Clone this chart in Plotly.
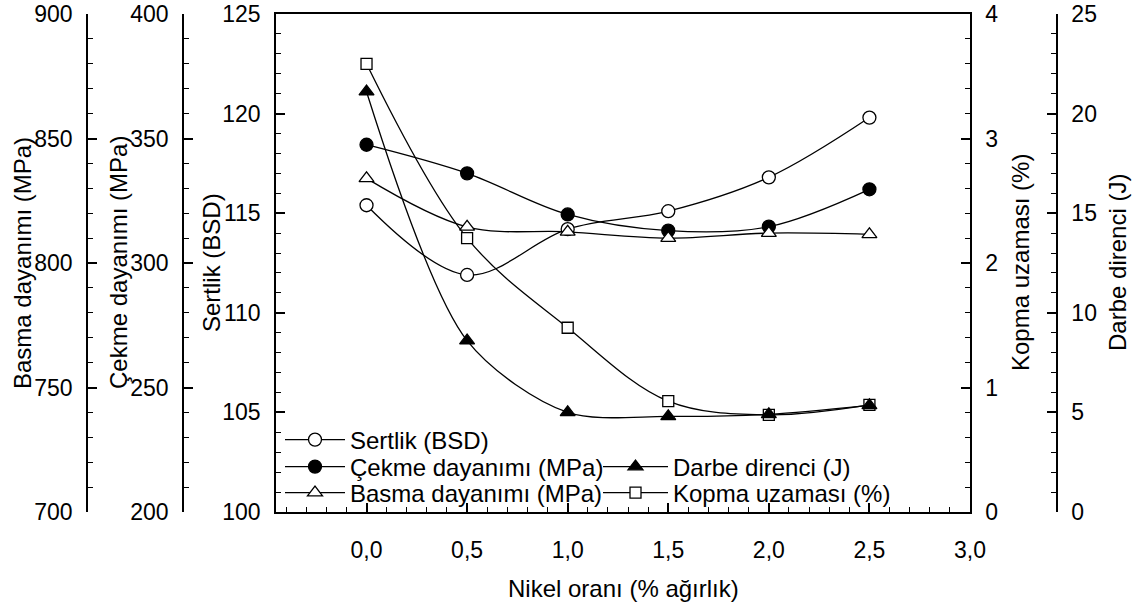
import plotly.graph_objects as go

# ---- data ----
nikel = [0.0, 0.5, 1.0, 1.5, 2.0, 2.5]
sertlik = [115.4, 111.9, 114.2, 115.1, 116.8, 119.8]          # BSD
cekme = [347.5, 336.0, 319.5, 313.0, 314.6, 329.6]            # MPa
basma = [834.0, 814.5, 812.5, 810.0, 812.0, 811.5]            # MPa
darbe = [21.1, 8.6, 5.0, 4.8, 4.9, 5.35]                      # J
kopma = [3.6, 2.2, 1.48, 0.89, 0.78, 0.86]                    # %

FONT = "Liberation Sans, Arial, sans-serif"
W, H = 1137, 608
TOP, BOTTOM = 14, 512
X0, X1 = 276, 970
TICK_SIZE = 23
TITLE_SIZE = 24
LEG_SIZE = 24

def px(p):
    return p / W

def py(p):
    return (BOTTOM - p) / (BOTTOM - TOP)

fig = go.Figure()

def line(sm=1.0):
    return dict(color="black", width=1.3, shape="spline", smoothing=sm)

fig.add_trace(go.Scatter(x=nikel, y=sertlik, name="Sertlik (BSD)", mode="lines+markers",
                         line=line(), yaxis="y", legend="legend",
                         marker=dict(symbol="circle", size=13, color="white",
                                     line=dict(color="black", width=1.3))))
fig.add_trace(go.Scatter(x=nikel, y=cekme, name="Çekme dayanımı (MPa)", mode="lines+markers",
                         line=line(), yaxis="y2", legend="legend2",
                         marker=dict(symbol="circle", size=13, color="black",
                                     line=dict(color="black", width=1.3))))
fig.add_trace(go.Scatter(x=nikel, y=basma, name="Basma dayanımı (MPa)", mode="lines+markers",
                         line=line(), yaxis="y3", legend="legend3",
                         marker=dict(symbol="triangle-up", size=13, color="white",
                                     line=dict(color="black", width=1.3))))
fig.add_trace(go.Scatter(x=nikel, y=darbe, name="Darbe direnci (J)", mode="lines+markers",
                         line=line(0.85), yaxis="y5", legend="legend4",
                         marker=dict(symbol="triangle-up", size=13, color="black",
                                     line=dict(color="black", width=1.3))))
fig.add_trace(go.Scatter(x=nikel, y=kopma, name="Kopma uzaması (%)", mode="lines+markers",
                         line=line(), yaxis="y4", legend="legend5",
                         marker=dict(symbol="square", size=11, color="white",
                                     line=dict(color="black", width=1.3))))

tickfont = dict(family=FONT, size=TICK_SIZE, color="black")

def yax(rng, dtick, mdtick, side, **kw):
    d = dict(range=rng, dtick=dtick, tick0=rng[0], side=side,
             showline=True, linecolor="black", linewidth=1.5,
             ticks="inside", ticklen=9, tickwidth=1.5, tickcolor="black",
             minor=dict(ticks="inside", ticklen=5, dtick=mdtick, tickwidth=1.2,
                        tickcolor="black", showgrid=False),
             showgrid=False, zeroline=False, tickfont=tickfont,
             ticklabelstandoff=9, automargin=False, fixedrange=True)
    d.update(kw)
    return d

def leg(xpix, ypix, iw):
    return dict(x=px(xpix), xanchor="left", y=py(ypix), yanchor="middle",
                bgcolor="rgba(0,0,0,0)", borderwidth=0, itemwidth=iw,
                font=dict(family=FONT, size=LEG_SIZE, color="black"))

fig.update_layout(
    width=W, height=H,
    margin=dict(l=0, r=0, t=TOP, b=H - BOTTOM, pad=0),
    paper_bgcolor="white", plot_bgcolor="white",
    separators=",.",
    font=dict(family=FONT, size=TICK_SIZE, color="black"),
    xaxis=dict(domain=[px(X0), px(X1)], range=[-0.45, 3.0],
               tick0=0, dtick=0.5, tickformat=".1f",
               showline=True, linecolor="black", linewidth=1.5, mirror=True,
               ticks="inside", ticklen=9, tickwidth=1.5, tickcolor="black",
               minor=dict(ticks="inside", ticklen=5, dtick=0.1, tickwidth=1.2,
                          tickcolor="black", showgrid=False),
               showgrid=False, zeroline=False, tickfont=tickfont,
               ticklabelstandoff=17, automargin=False, fixedrange=True),
    yaxis=yax([100, 125], 5, 1, "left", anchor="x"),
    yaxis2=yax([200, 400], 50, 10, "left", anchor="free", overlaying="y",
               position=px(183)),
    yaxis3=yax([700, 900], 50, 10, "left", anchor="free", overlaying="y",
               position=px(87)),
    yaxis4=yax([0, 4], 1, 0.2, "right", anchor="x", overlaying="y"),
    yaxis5=yax([0, 25], 5, 1, "right", anchor="free", overlaying="y",
               position=px(1057)),
    legend=leg(280, 440, 60),
    legend2=leg(280, 467, 60),
    legend3=leg(280, 493, 60),
    legend4=leg(598, 467, 65),
    legend5=leg(598, 493, 65),
    showlegend=True,
)

titles = [
    ("Basma dayanımı (MPa)", 22),
    ("Çekme dayanımı (MPa)", 118),
    ("Sertlik (BSD)", 211),
    ("Kopma uzaması (%)", 1020),
    ("Darbe direnci (J)", 1117),
]
for text, xpix in titles:
    fig.add_annotation(text=text, xref="paper", yref="paper", x=px(xpix), y=0.5,
                       xanchor="center", yanchor="middle", textangle=-90, showarrow=False,
                       font=dict(family=FONT, size=TITLE_SIZE, color="black"))

fig.add_annotation(text="Nikel oranı (% ağırlık)", xref="paper", yref="paper",
                   x=px((X0 + X1) / 2), y=py(588),
                   xanchor="center", yanchor="middle", showarrow=False,
                   font=dict(family=FONT, size=TITLE_SIZE, color="black"))

fig.write_html("out.html")
